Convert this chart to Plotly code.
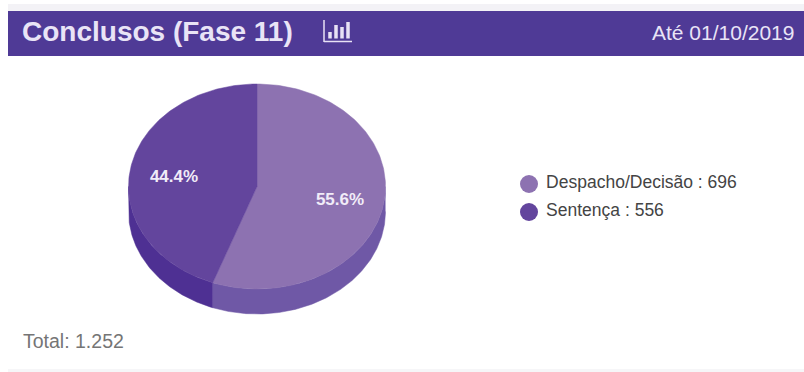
import numpy as np
import plotly.graph_objects as go

# Chart data
categories = ["Despacho/Decisão", "Sentença"]
values = [696, 556]
total_label = "Total: 1.252"
title_text = "Conclusos (Fase 11)"
date_text = "Até 01/10/2019"

# Pie geometry in page pixels, tilted to look three-dimensional
CX, CY, RX, RY, DEPTH = 257, 186.5, 128.5, 102.5, 25
TOP_COLORS = ["#8d72b1", "#63459d"]
SIDE_COLORS = ["#6f58a6", "#4e3093"]
FONT = "Liberation Sans, Arial, sans-serif"

shares = np.array(values) / sum(values)
edges = np.concatenate([[0], np.cumsum(shares)]) * 2 * np.pi


def rim(a0, a1, dy=0.0):
    """Points along the ellipse, clockwise from 12 o'clock."""
    t = np.linspace(a0, a1, 160)
    return CX + RX * np.sin(t), CY - RY * np.cos(t) + dy


fig = go.Figure()

# Side wall: only the part of the rim that faces the viewer
for i in range(len(values)):
    a0 = max(edges[i], np.pi / 2)
    a1 = min(edges[i + 1], 3 * np.pi / 2)
    if a1 > a0:
        x_up, y_up = rim(a0, a1)
        x_dn, y_dn = rim(a0, a1, DEPTH)
        fig.add_trace(go.Scatter(
            x=np.concatenate([x_up, x_dn[::-1]]),
            y=np.concatenate([y_up, y_dn[::-1]]),
            mode="lines", fill="toself", fillcolor=SIDE_COLORS[i],
            line=dict(width=0.5, color=SIDE_COLORS[i]),
            hoverinfo="skip", showlegend=False,
        ))

# Top face slices
for i in range(len(values)):
    x_r, y_r = rim(edges[i], edges[i + 1])
    fig.add_trace(go.Scatter(
        x=np.concatenate([[CX], x_r, [CX]]),
        y=np.concatenate([[CY], y_r, [CY]]),
        mode="lines", fill="toself", fillcolor=TOP_COLORS[i],
        line=dict(width=0.5, color=TOP_COLORS[i]),
        name=categories[i], hoverinfo="name", showlegend=False,
    ))

# Percentage labels placed at each slice's mid-angle
mids = (edges[:-1] + edges[1:]) / 2
fig.add_trace(go.Scatter(
    x=CX + 0.656 * RX * np.sin(mids),
    y=CY - 0.656 * RY * np.cos(mids) + 2.5,
    mode="text",
    text=[f"<b>{s * 100:.1f}%</b>" for s in shares],
    textposition="middle center",
    textfont=dict(family=FONT, size=17, color="#f1ecf8"),
    hoverinfo="skip", showlegend=False,
))

# Legend entries
legend_x = [529, 529]
legend_y = [184, 212]
fig.add_trace(go.Scatter(
    x=legend_x, y=legend_y, mode="markers+text",
    marker=dict(size=18, color=TOP_COLORS),
    text=[f" {c} : {v}" for c, v in zip(categories, values)],
    textposition="middle right",
    textfont=dict(family=FONT, size=17.5, color="#444444"),
    hoverinfo="skip", showlegend=False,
))

ICON = "#e8e2f5"
shapes = [
    dict(type="rect", x0=8, x1=804, y0=4, y1=11, fillcolor="#f3f2f6", line_width=0, layer="below"),
    dict(type="rect", x0=8, x1=804, y0=11, y1=56, fillcolor="#4f3a96", line_width=0, layer="below"),
    dict(type="rect", x0=8, x1=804, y0=369, y1=372, fillcolor="#f6f6f8", line_width=0, layer="below"),
    # Small bar-chart icon next to the title
    dict(type="line", x0=324, x1=352, y0=41.5, y1=41.5, line=dict(color=ICON, width=1.5)),
    dict(type="line", x0=324, x1=324, y0=20, y1=42, line=dict(color=ICON, width=1.5)),
]
for bx, top in [(330, 32), (336, 25), (342, 27), (348, 22)]:
    shapes.append(dict(type="line", x0=bx, x1=bx, y0=top, y1=38.5,
                       line=dict(color=ICON, width=3.5)))

annotations = [
    dict(x=20, y=31, text=f"<b>{title_text}</b>", xanchor="left", yanchor="middle",
         showarrow=False, font=dict(family=FONT, size=28, color="#e9e4f6")),
    dict(x=796, y=32, text=date_text, xanchor="right", yanchor="middle",
         showarrow=False, font=dict(family=FONT, size=21, color="#e9e4f6")),
    dict(x=21, y=341, text=total_label, xanchor="left", yanchor="middle",
         showarrow=False, font=dict(family=FONT, size=19.5, color="#757575")),
]

fig.update_layout(
    width=804, height=372,
    margin=dict(l=0, r=0, t=0, b=0),
    paper_bgcolor="#ffffff", plot_bgcolor="#ffffff",
    xaxis=dict(range=[0, 804], visible=False, fixedrange=True),
    yaxis=dict(range=[372, 0], visible=False, fixedrange=True),
    shapes=shapes, annotations=annotations, showlegend=False,
)

fig.write_html("out.html", config={"displayModeBar": False})
